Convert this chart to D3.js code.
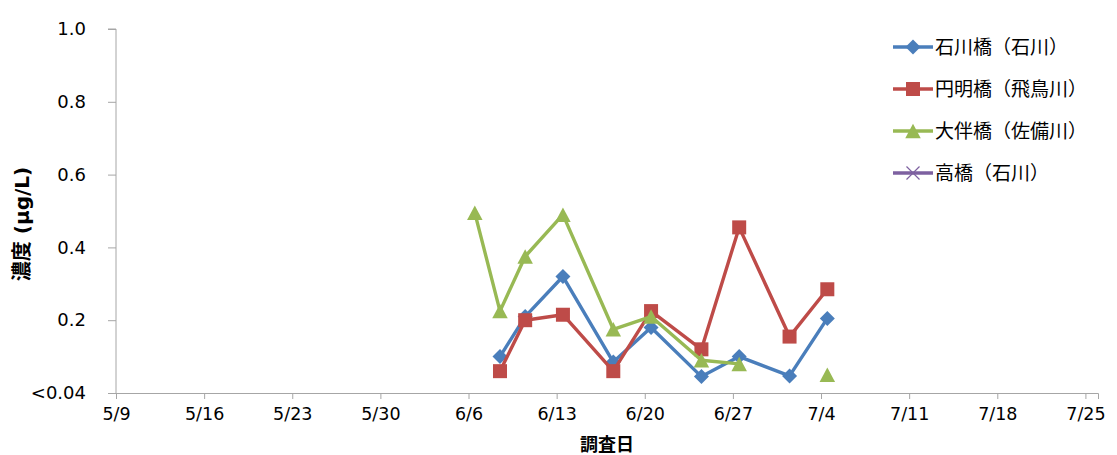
<!DOCTYPE html>
<html>
<head>
<meta charset="utf-8">
<script src="https://cdn.jsdelivr.net/npm/d3@7"></script>
<style>
  html, body { margin: 0; padding: 0; background: #fff; }
  svg { display: block; }
</style>
</head>
<body>
<svg id="chart" width="1117" height="455"></svg>
<script>
// Survey dates (month-day)
const dates = ["06-06", "06-08", "06-10", "06-13", "06-17", "06-20", "06-24", "06-27", "07-01", "07-04"];

// Concentration (μg/L); null = no sample
const ishikawaBashi = [null, 0.10, 0.21, 0.32, 0.085, 0.18, 0.045, 0.10, 0.047, 0.205];
const enmyoBashi    = [null, 0.06, 0.20, 0.215, 0.06, 0.225, 0.12, 0.455, 0.155, 0.285];
const otomoBashi    = [0.495, 0.225, 0.375, 0.49, 0.175, 0.21, 0.09, 0.08, null, 0.05];
const takaBashi     = [null, null, null, null, null, null, null, null, null, null];

const seriesNames  = ["石川橋（石川）", "円明橋（飛鳥川）", "大伴橋（佐備川）", "高橋（石川）"];
const seriesColors = ["#4a7ebb", "#be4b48", "#98b954", "#7d60a0"];
const seriesShapes = ["diamond", "square", "triangle", "cross"];

const yTicks = [0, 0.2, 0.4, 0.6, 0.8, 1.0];
const yTickLabels = ["<0.04", "0.2", "0.4", "0.6", "0.8", "1.0"];

const YEAR = 2019;
const parse = s => new Date(`${YEAR}-${s}T00:00:00`);

const LATIN = "'DejaVu Sans', 'Noto Sans CJK JP', sans-serif";
const CJK = "'Noto Sans CJK JP', 'DejaVu Sans', sans-serif";

const svg = d3.select("#chart");
const margin = { left: 116, right: 1098, top: 29, bottom: 393 };

const x = d3.scaleTime()
  .domain([parse("05-09"), parse("07-26")])
  .range([margin.left, margin.right]);
const y = d3.scaleLinear().domain([0, 1]).range([margin.bottom, margin.top]);

const xTickValues = d3.timeDay.range(parse("05-09"), parse("07-26"), 1).filter((d, i) => i % 7 === 0);

// X axis
const xAxis = d3.axisBottom(x)
  .tickValues(xTickValues)
  .tickSize(6)
  .tickPadding(9)
  .tickFormat(d => `${d.getMonth() + 1}/${d.getDate()}`);
const gx = svg.append("g")
  .attr("transform", `translate(0,${margin.bottom})`)
  .call(xAxis)
  .attr("font-family", LATIN)
  .attr("font-size", 17.5);
gx.select(".domain").attr("stroke", "#a6a6a6").attr("stroke-width", 1);
gx.selectAll(".tick line").attr("stroke", "#a6a6a6");
gx.selectAll(".tick text").attr("fill", "#000");

// Y axis
const yAxis = d3.axisLeft(y)
  .tickValues(yTicks)
  .tickSize(8)
  .tickPadding(22)
  .tickFormat((d, i) => yTickLabels[i]);
const gy = svg.append("g")
  .attr("transform", `translate(${margin.left},0)`)
  .call(yAxis)
  .attr("font-family", LATIN)
  .attr("font-size", 18);
gy.select(".domain").attr("stroke", "#a6a6a6").attr("d", `M-8,${y(1)}H0V${y(0)}H0`);
gy.selectAll(".tick line").attr("stroke", "#a6a6a6");
gy.selectAll(".tick text").attr("fill", "#000");

// Axis titles
svg.append("text")
  .attr("x", (margin.left + margin.right) / 2)
  .attr("y", 451)
  .attr("text-anchor", "middle")
  .attr("font-family", CJK)
  .attr("font-size", 18)
  .attr("font-weight", "bold")
  .text("調査日");

svg.append("text")
  .attr("transform", `translate(29,${(margin.top + margin.bottom) / 2 + 13}) rotate(-90)`)
  .attr("text-anchor", "middle")
  .attr("font-family", LATIN)
  .attr("font-size", 20)
  .attr("font-weight", "bold")
  .text("濃度 (μg/L)");

// Marker drawing helper
function marker(g, shape, color, cx, cy) {
  if (shape === "diamond") {
    const r = 7.5;
    g.append("path").attr("d", `M${cx},${cy - r}L${cx + r},${cy}L${cx},${cy + r}L${cx - r},${cy}Z`).attr("fill", color);
  } else if (shape === "square") {
    const s = 14;
    g.append("rect").attr("x", cx - s / 2).attr("y", cy - s / 2).attr("width", s).attr("height", s).attr("fill", color);
  } else if (shape === "triangle") {
    const w = 15.5, h = 14.5;
    g.append("path").attr("d", `M${cx},${cy - h / 2}L${cx + w / 2},${cy + h / 2}L${cx - w / 2},${cy + h / 2}Z`).attr("fill", color);
  } else {
    const r = 6.5;
    g.append("path").attr("d", `M${cx - r},${cy - r}L${cx + r},${cy + r}M${cx - r},${cy + r}L${cx + r},${cy - r}`)
      .attr("stroke", color).attr("stroke-width", 1.2).attr("fill", "none");
  }
}

// Points sit mid-day on the date axis
const px = s => x(d3.timeHour.offset(parse(s), 12));

const allSeries = [ishikawaBashi, enmyoBashi, otomoBashi, takaBashi];
const line = d3.line()
  .defined(d => d.v !== null)
  .x(d => px(d.date))
  .y(d => y(d.v));

allSeries.forEach((vals, si) => {
  const g = svg.append("g");
  const data = dates.map((date, i) => ({ date, v: vals[i] }));
  g.append("path")
    .datum(data)
    .attr("d", line)
    .attr("fill", "none")
    .attr("stroke", seriesColors[si])
    .attr("stroke-width", 3.4)
    .attr("stroke-linejoin", "round");
  data.filter(d => d.v !== null).forEach(d => marker(g, seriesShapes[si], seriesColors[si], px(d.date), y(d.v)));
});

// Legend
const legend = svg.append("g");
const legendRows = [47, 89, 131, 173];
seriesNames.forEach((name, i) => {
  const ly = legendRows[i];
  legend.append("line")
    .attr("x1", 893).attr("x2", 933).attr("y1", ly).attr("y2", ly)
    .attr("stroke", seriesColors[i]).attr("stroke-width", 3.4);
  marker(legend, seriesShapes[i], seriesColors[i], 913, ly);
  legend.append("text")
    .attr("x", 935).attr("y", ly)
    .attr("dy", "0.36em")
    .attr("font-family", CJK)
    .attr("font-size", 19)
    .text(name);
});
</script>
</body>
</html>
